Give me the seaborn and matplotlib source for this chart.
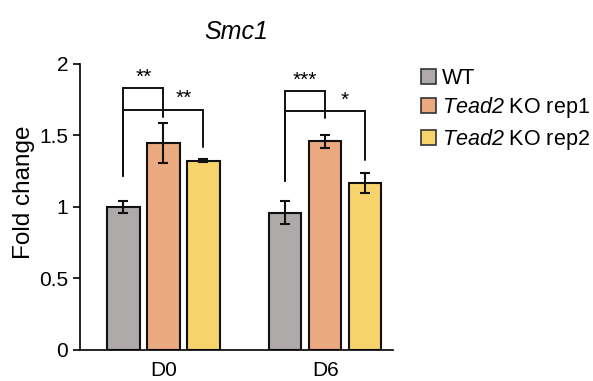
import matplotlib
matplotlib.use("Agg")
import matplotlib.pyplot as plt
import seaborn as sns
import pandas as pd
from matplotlib.patches import Patch

# data
days = ["D0", "D6"]
groups = ["WT", "Tead2 KO rep1", "Tead2 KO rep2"]
wt_mean = [1.00, 0.96]
wt_err = [0.04, 0.08]
rep1_mean = [1.45, 1.46]
rep1_err = [0.14, 0.045]
rep2_mean = [1.325, 1.17]
rep2_err = [0.01, 0.07]
colors = ["#ADAAA9", "#EBA97F", "#F6D36B"]
legend_labels = ["WT", r"$\mathit{Tead2}$ KO rep1", r"$\mathit{Tead2}$ KO rep2"]

# significance brackets: (day, compared group, left leg bottom, top, right leg bottom, stars)
sig = [
    (0, 1, 1.22, 1.83, 1.63, "**"),
    (0, 2, 1.22, 1.68, 1.42, "**"),
    (1, 1, 1.18, 1.81, 1.62, "***"),
    (1, 2, 1.18, 1.67, 1.33, "*"),
]

sns.set_style("ticks")
plt.rcParams["font.family"] = ["Liberation Sans", "DejaVu Sans"]
plt.rcParams["mathtext.fontset"] = "custom"
# digits fall back to the rm font in mathtext, so make both italic (only used for "Tead2")
plt.rcParams["mathtext.it"] = "Liberation Sans:italic"
plt.rcParams["mathtext.rm"] = "Liberation Sans:italic"
for k in ["text.color", "axes.labelcolor", "xtick.color", "ytick.color", "axes.edgecolor"]:
    plt.rcParams[k] = "black"

rows = []
means = [wt_mean, rep1_mean, rep2_mean]
errs = [wt_err, rep1_err, rep2_err]
for g, m, e in zip(groups, means, errs):
    for d, v, s in zip(days, m, e):
        rows.append({"day": d, "group": g, "value": v, "err": s})
df = pd.DataFrame(rows)

fig = plt.figure(figsize=(5.93, 3.81), dpi=100)
ax = fig.add_axes([0.135, 0.0814, 0.528, 0.7507])

sns.barplot(data=df, x="day", y="value", hue="group", order=days, hue_order=groups,
            palette=colors, saturation=1, width=0.741, gap=0.19, errorbar=None,
            edgecolor="#111111", linewidth=1.5, ax=ax, legend=False)

# bar centers from the patches seaborn drew
bar_containers = list(ax.containers)
centers = {}
for gi, cont in enumerate(bar_containers):
    for di, bar in enumerate(cont):
        centers[(di, gi)] = bar.get_x() + bar.get_width() / 2
for (di, gi), xc in centers.items():
    ax.errorbar(xc, means[gi][di], yerr=errs[gi][di],
                color="#111111", capsize=3.6, elinewidth=1.5, capthick=1.5)

for di, gi, lbot, top, rbot, stars in sig:
    x0 = centers[(di, 0)]
    x1 = centers[(di, gi)]
    ax.plot([x0, x0, x1, x1], [lbot, top, top, rbot], color="#111111", lw=1.4,
            solid_joinstyle="miter", clip_on=False)
    xs = (x0 + x1) / 2 if gi == 1 else (centers[(di, 1)] + x1) / 2
    ax.text(xs, top + 0.01, stars, ha="center", va="bottom", fontsize=15)

ax.set_ylim(0, 2)
ax.set_xlim(-0.515, 1.42)
ax.set_yticks([0, 0.5, 1, 1.5, 2])
ax.set_yticklabels(["0", "0.5", "1", "1.5", "2"])
ax.tick_params(axis="y", labelsize=15, length=5, width=1.2, direction="out")
ax.tick_params(axis="x", labelsize=15, length=0, pad=8)
ax.set_xlabel("")
ax.set_ylabel("Fold change", fontsize=17.5)
ax.yaxis.set_label_coords(-0.145, 0.55)
ax.set_title("Smc1", fontsize=18, style="italic", pad=18)
for sp in ["top", "right"]:
    ax.spines[sp].set_visible(False)
for sp in ["left", "bottom"]:
    ax.spines[sp].set_linewidth(1.2)

handles = [Patch(facecolor=c, edgecolor="#333333", linewidth=1.2) for c in colors]
fig.legend(handles, legend_labels, loc="upper left", bbox_to_anchor=(0.695, 0.845),
           frameon=False, fontsize=15.5, handlelength=0.7, handleheight=0.7,
           handletextpad=0.3, labelspacing=0.3, borderaxespad=0)

fig.savefig("out.png", dpi=100)
